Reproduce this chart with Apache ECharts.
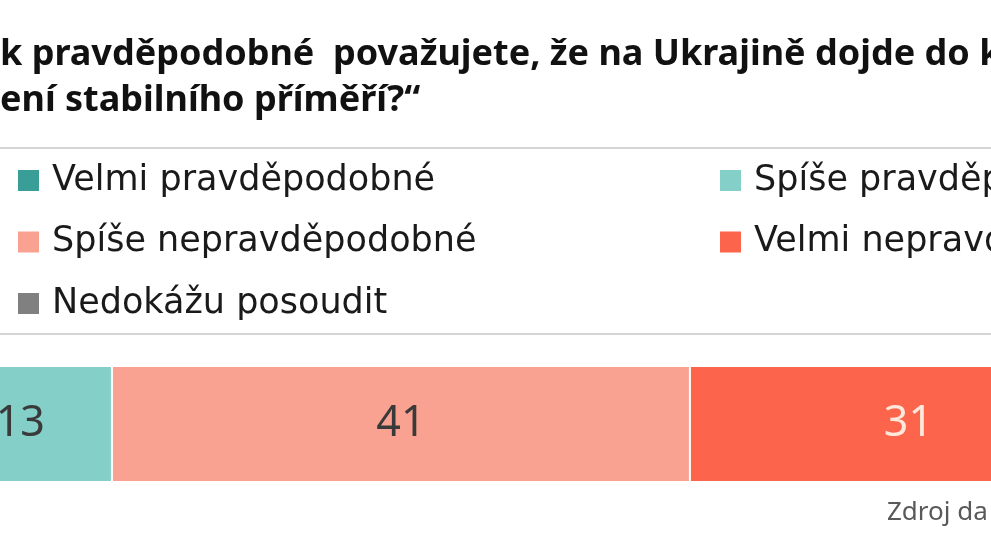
<!DOCTYPE html>
<html>
<head>
<meta charset="utf-8">
<script src="https://cdn.jsdelivr.net/npm/echarts@6/dist/echarts.min.js"></script>
<style>
  html, body { margin: 0; padding: 0; background: #fff; }
  #main { width: 991px; height: 558px; }
</style>
</head>
<body>
<div id="main"></div>
<script>
// answers (legend order) and their share in %
var answers = ['Velmi pravděpodobné', 'Spíše pravděpodobné', 'Spíše nepravděpodobné', 'Velmi nepravděpodobné', 'Nedokážu posoudit'];
var shares = [4, 13, 41, 31, 11];
var colors = ['#3a9e98', '#84cfc8', '#f9a292', '#fc644b', '#808080'];
var labelColors = ['#ffffff', '#3a3a3a', '#3a3a3a', '#fde9dc', '#ffffff'];
var bars = [''];
// title lines, as far as they are visible
var titleLines = ['k pravděpodobné  považujete, že na Ukrajině dojde do k', 'ení stabilního příměří?“'];
var sourceText = 'Zdroj da';

// visible part of the percent axis
var viewMin = shares[0] + shares[1] - 7.94;
var viewMax = viewMin + 70.3;

var chart = echarts.init(document.getElementById('main'));

var series = answers.map(function (name, i) {
    return {
        name: name,
        type: 'bar',
        stack: 'all',
        clip: false,
        barWidth: '100%',
        data: [shares[i]],
        itemStyle: { color: colors[i], borderColor: '#fff', borderWidth: 1 },
        label: {
            show: true,
            position: 'inside',
            color: labelColors[i],
            fontFamily: 'Noto Sans',
            fontSize: 43
        },
        emphasis: { disabled: true }
    };
});

var legendText = {
    fontFamily: 'DejaVu Sans',
    fontSize: 35,
    lineHeight: 35,
    color: '#1a1a1a',
    padding: [0, 0, 0, 7]
};

var option = {
    backgroundColor: '#fff',
    animation: false,
    grid: { left: 0, right: 0, top: 366, height: 116 },
    xAxis: { type: 'value', min: viewMin, max: viewMax, show: false },
    yAxis: { type: 'category', data: bars, show: false },
    legend: [
        {
            orient: 'vertical', left: 16, top: 163, padding: 0, itemGap: 26.5,
            itemWidth: 23, itemHeight: 23, icon: 'rect', selectedMode: false,
            data: [answers[0], answers[2], answers[4]], textStyle: legendText
        },
        {
            orient: 'vertical', left: 718, top: 163, padding: 0, itemGap: 26.5,
            itemWidth: 23, itemHeight: 23, icon: 'rect', selectedMode: false,
            data: [answers[1], answers[3]], textStyle: legendText
        }
    ],
    graphic: [
        { type: 'text', left: 0, top: 37, style: { text: titleLines[0], font: 'bold 36px "Noto Sans"', fill: '#111' } },
        { type: 'text', left: 0, top: 83, style: { text: titleLines[1], font: 'bold 36px "Noto Sans"', fill: '#111' } },
        { type: 'line', shape: { x1: 0, y1: 148, x2: 991, y2: 148 }, style: { stroke: '#d4d4d4', lineWidth: 2 } },
        { type: 'line', shape: { x1: 0, y1: 334, x2: 991, y2: 334 }, style: { stroke: '#d4d4d4', lineWidth: 2 } },
        { type: 'text', left: 887, top: 500, style: { text: sourceText, font: '26px "Noto Sans"', fill: '#595959' } }
    ],
    series: series
};

chart.setOption(option);
</script>
</body>
</html>
